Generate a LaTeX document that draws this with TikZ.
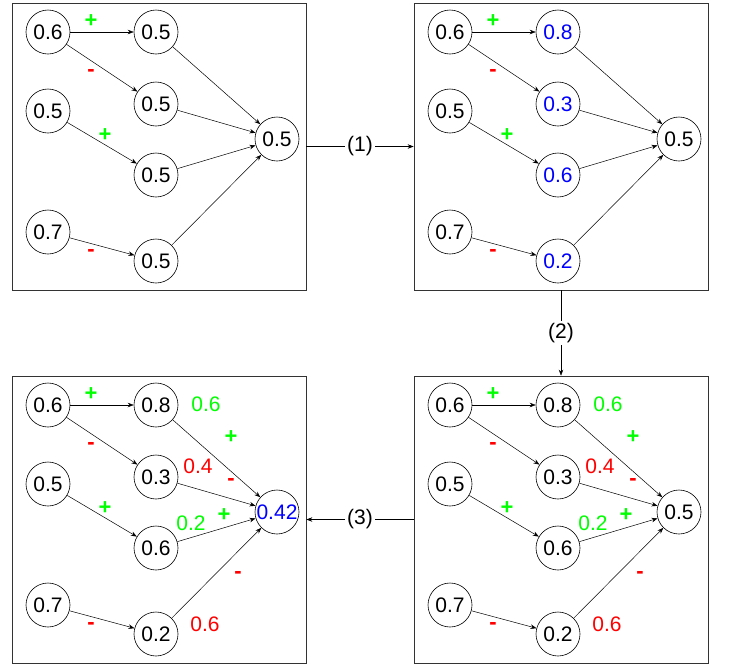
\documentclass[tikz,border=0pt]{standalone}
\usepackage{fontspec}
\setmainfont{Liberation Sans}
\usetikzlibrary{arrows.meta}

\tikzset{
  neuron/.style={draw, circle, minimum size=44pt, inner sep=0pt, line width=0.6pt,
    font=\fontsize{21}{25}\selectfont},
  panel/.style={draw=black!80, line width=0.7pt, minimum width=294pt,
    minimum height=287pt, inner sep=0pt},
  link/.style={-{Stealth[length=6pt,width=4.5pt]}, line width=0.5pt},
  plus/.style={text=green, font=\bfseries\fontsize{22}{25}\selectfont},
  minus/.style={text=red, font=\bfseries\fontsize{22}{25}\selectfont},
  wval/.style={font=\fontsize{21}{25}\selectfont},
  step label/.style={fill=white, inner sep=2pt, font=\fontsize{21}{25}\selectfont}
}

\begin{document}
\begin{tikzpicture}[x=1pt, y=-1pt]
    \useasboundingbox (0,0) rectangle (730,665);

    % Panels
    \node[panel] (box1) at (159,146.5) {};
    \node[panel] (box2) at (561,146.5) {};
    \node[panel] (box3) at (159,519.5) {};
    \node[panel] (box4) at (561,519.5) {};

    % Panel 1: start
    \begin{scope}
    \node[neuron] (Ain1) at (48,32) {0.6};
    \node[neuron] (Ain2) at (48,111) {0.5};
    \node[neuron] (Ain3) at (48,232) {0.7};
    \node[neuron] (Ah1) at (156,32) {0.5};
    \node[neuron] (Ah2) at (156,104) {0.5};
    \node[neuron] (Ah3) at (156,175) {0.5};
    \node[neuron] (Ah4) at (156,261) {0.5};
    \node[neuron] (Aout) at (277,139) {0.5};
    \draw[link] (Ain1) -- (Ah1);
    \draw[link] (Ain1) -- (Ah2);
    \draw[link] (Ain2) -- (Ah3);
    \draw[link] (Ain3) -- (Ah4);
    \draw[link] (Ah1) -- (Aout);
    \draw[link] (Ah2) -- (Aout);
    \draw[link] (Ah3) -- (Aout);
    \draw[link] (Ah4) -- (Aout);
    \node[plus] (As1) at (91,21) {+};
    \node[minus] (As2) at (91,73) {-};
    \node[plus] (As3) at (105,135) {+};
    \node[minus] (As4) at (91,253) {-};
    \end{scope}

    % Panel 2: hidden values
    \begin{scope}[shift={(402,0)}]
    \node[neuron] (Bin1) at (48,32) {0.6};
    \node[neuron] (Bin2) at (48,111) {0.5};
    \node[neuron] (Bin3) at (48,232) {0.7};
    \node[neuron, text=blue] (Bh1) at (156,32) {0.8};
    \node[neuron, text=blue] (Bh2) at (156,104) {0.3};
    \node[neuron, text=blue] (Bh3) at (156,175) {0.6};
    \node[neuron, text=blue] (Bh4) at (156,261) {0.2};
    \node[neuron] (Bout) at (277,139) {0.5};
    \draw[link] (Bin1) -- (Bh1);
    \draw[link] (Bin1) -- (Bh2);
    \draw[link] (Bin2) -- (Bh3);
    \draw[link] (Bin3) -- (Bh4);
    \draw[link] (Bh1) -- (Bout);
    \draw[link] (Bh2) -- (Bout);
    \draw[link] (Bh3) -- (Bout);
    \draw[link] (Bh4) -- (Bout);
    \node[plus] (Bs1) at (91,21) {+};
    \node[minus] (Bs2) at (91,73) {-};
    \node[plus] (Bs3) at (105,135) {+};
    \node[minus] (Bs4) at (91,253) {-};
    \end{scope}

    % Panel 4: output weights
    \begin{scope}[shift={(402,373)}]
    \node[neuron] (Din1) at (48,32) {0.6};
    \node[neuron] (Din2) at (48,111) {0.5};
    \node[neuron] (Din3) at (48,232) {0.7};
    \node[neuron] (Dh1) at (156,32) {0.8};
    \node[neuron] (Dh2) at (156,104) {0.3};
    \node[neuron] (Dh3) at (156,175) {0.6};
    \node[neuron] (Dh4) at (156,261) {0.2};
    \node[neuron] (Dout) at (277,139) {0.5};
    \draw[link] (Din1) -- (Dh1);
    \draw[link] (Din1) -- (Dh2);
    \draw[link] (Din2) -- (Dh3);
    \draw[link] (Din3) -- (Dh4);
    \draw[link] (Dh1) -- (Dout);
    \draw[link] (Dh2) -- (Dout);
    \draw[link] (Dh3) -- (Dout);
    \draw[link] (Dh4) -- (Dout);
    \node[plus] (Ds1) at (91,21) {+};
    \node[minus] (Ds2) at (91,73) {-};
    \node[plus] (Ds3) at (105,135) {+};
    \node[minus] (Ds4) at (91,253) {-};
    \node[wval, text=green] (Dv1) at (206,31) {0.6};
    \node[plus] (Dw1) at (231,64) {+};
    \node[wval, text=red] (Dv2) at (198,93) {0.4};
    \node[minus] (Dw2) at (231,109) {-};
    \node[wval, text=green] (Dv3) at (191,150) {0.2};
    \node[plus] (Dw3) at (224,142) {+};
    \node[minus] (Dw4) at (238,202) {-};
    \node[wval, text=red] (Dv4) at (205,251) {0.6};
    \end{scope}

    % Panel 3: new output
    \begin{scope}[shift={(0,373)}]
    \node[neuron] (Cin1) at (48,32) {0.6};
    \node[neuron] (Cin2) at (48,111) {0.5};
    \node[neuron] (Cin3) at (48,232) {0.7};
    \node[neuron] (Ch1) at (156,32) {0.8};
    \node[neuron] (Ch2) at (156,104) {0.3};
    \node[neuron] (Ch3) at (156,175) {0.6};
    \node[neuron] (Ch4) at (156,261) {0.2};
    \node[neuron, text=blue] (Cout) at (277,139) {0.42};
    \draw[link] (Cin1) -- (Ch1);
    \draw[link] (Cin1) -- (Ch2);
    \draw[link] (Cin2) -- (Ch3);
    \draw[link] (Cin3) -- (Ch4);
    \draw[link] (Ch1) -- (Cout);
    \draw[link] (Ch2) -- (Cout);
    \draw[link] (Ch3) -- (Cout);
    \draw[link] (Ch4) -- (Cout);
    \node[plus] (Cs1) at (91,21) {+};
    \node[minus] (Cs2) at (91,73) {-};
    \node[plus] (Cs3) at (105,135) {+};
    \node[minus] (Cs4) at (91,253) {-};
    \node[wval, text=green] (Cv1) at (206,31) {0.6};
    \node[plus] (Cw1) at (231,64) {+};
    \node[wval, text=red] (Cv2) at (198,93) {0.4};
    \node[minus] (Cw2) at (231,109) {-};
    \node[wval, text=green] (Cv3) at (191,150) {0.2};
    \node[plus] (Cw3) at (224,142) {+};
    \node[minus] (Cw4) at (238,202) {-};
    \node[wval, text=red] (Cv4) at (205,251) {0.6};
    \end{scope}

    % Steps between panels
    \draw[link] (box1) -- node[step label] (lab1) {(1)} (box2);
    \draw[link] (box2) -- node[step label] (lab2) {(2)} (box4);
    \draw[link] (box4) -- node[step label] (lab3) {(3)} (box3);

\end{tikzpicture}
\end{document}
